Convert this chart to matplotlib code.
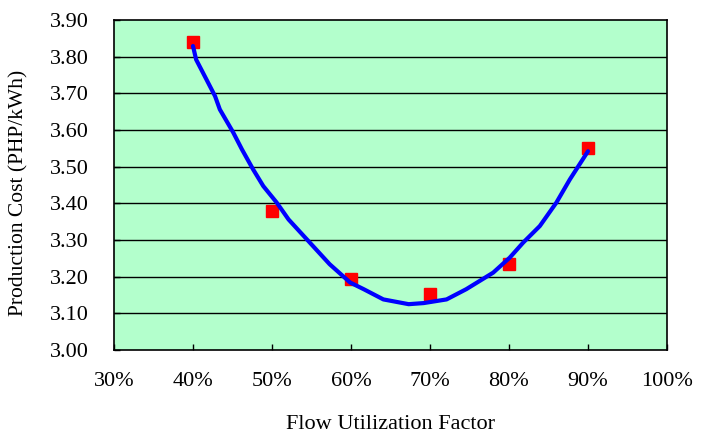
import matplotlib
matplotlib.use("Agg")
import matplotlib.pyplot as plt
from matplotlib.ticker import FuncFormatter

# Observed data points (red squares)
flow_pts = [40, 50, 60, 70, 80, 90]
cost_pts = [3.84, 3.38, 3.195, 3.152, 3.235, 3.55]

# Trend curve
curve_x = [40.0, 40.4, 41.7, 42.8, 43.4, 45.1, 46.2, 47.6, 48.9, 50.6, 52.1,
           55.0, 57.3, 59.9, 61.6, 64.1, 67.3, 69.2, 72.1, 74.6, 78.0, 80.1,
           81.8, 83.9, 86.0, 87.7, 90.0]
curve_y = [3.829, 3.792, 3.738, 3.692, 3.656, 3.593, 3.547, 3.493, 3.447,
           3.402, 3.356, 3.288, 3.234, 3.184, 3.166, 3.138, 3.125, 3.128,
           3.138, 3.166, 3.211, 3.252, 3.293, 3.338, 3.402, 3.465, 3.542]

x_ticks = [30, 40, 50, 60, 70, 80, 90, 100]
y_ticks = [3.00, 3.10, 3.20, 3.30, 3.40, 3.50, 3.60, 3.70, 3.80, 3.90]

plt.rcParams['font.family'] = ['Liberation Serif', 'DejaVu Serif']

fig = plt.figure(figsize=(7.07, 4.34), dpi=100)
ax = fig.add_axes([0.1612, 0.1935, 0.9434 - 0.1612, 0.954 - 0.1935])
ax.set_facecolor('#B3FFCC')

ax.set_xlim(30, 100)
ax.set_ylim(3.00, 3.90)
ax.set_xticks(x_ticks)
ax.set_yticks(y_ticks)
ax.xaxis.set_major_formatter(FuncFormatter(lambda v, p: f"{v:.0f}%"))
ax.yaxis.set_major_formatter(FuncFormatter(lambda v, p: f"{v:.2f}"))

for yv in y_ticks[1:-1]:
    ax.axhline(yv, color='black', lw=1.0, zorder=1)

ax.plot(curve_x, curve_y, color='#0000FF', lw=3, zorder=3, solid_capstyle='round')
ax.plot(flow_pts, cost_pts, linestyle='none', marker='s', markersize=9,
        color='#FF0000', markeredgecolor='#FF0000', zorder=2)

for s in ax.spines.values():
    s.set_color('black')
    s.set_linewidth(1.2)

ax.tick_params(axis='both', direction='in', length=4, width=1, labelsize=16,
               colors='black')
ax.tick_params(axis='x', pad=16)
ax.tick_params(axis='y', pad=18)

ax.set_xlabel('Flow Utilization Factor', fontsize=16, labelpad=17)
ax.set_ylabel('Production Cost (PHP/kWh)', fontsize=15.5)
ax.yaxis.set_label_coords(-0.155, 0.476)

fig.savefig('out.png', dpi=100, facecolor='white')
